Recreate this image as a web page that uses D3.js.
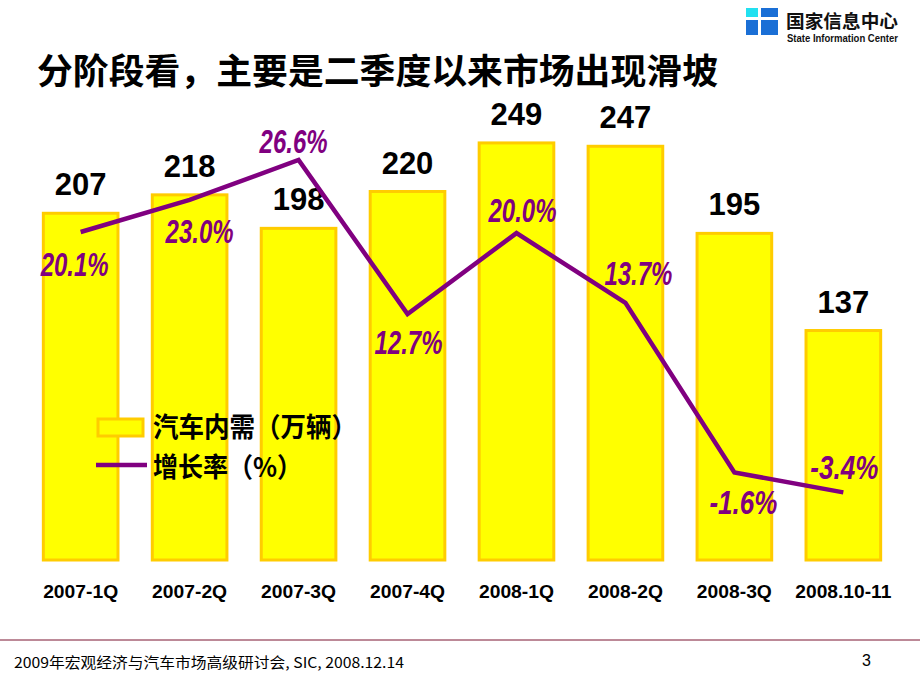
<!DOCTYPE html>
<html><head><meta charset="utf-8">
<script src="https://cdn.jsdelivr.net/npm/d3@7"></script>
<style>body{margin:0;background:#fff}svg{display:block}</style>
</head><body>
<svg id="c" width="920" height="690"></svg>
<script>
const categories = ["2007-1Q","2007-2Q","2007-3Q","2007-4Q","2008-1Q","2008-2Q","2008-3Q","2008.10-11"];
const demand = [207,218,198,220,249,247,195,137];
const growth = [20.1,23.0,26.6,12.7,20.0,13.7,-1.6,-3.4];
const growthLabels = ["20.1%","23.0%","26.6%","12.7%","20.0%","13.7%","-1.6%","-3.4%"];
const title = "分阶段看，主要是二季度以来市场出现滑坡";
const legendNames = ["汽车内需（万辆）","增长率（%）"];
// label offsets (style only)
const pctOffsets = [[-6,44],[10,43],[-5,-7],[1,40],[6,-11],[13,-18],[9,42],[1,-13]];

const svg = d3.select("#c");
const font = "Arial, 'Liberation Sans', 'Noto Sans CJK SC', sans-serif";
const cjk = "'Noto Sans CJK SC', sans-serif";

const x = d3.scaleBand().domain(categories).range([27, 897]).paddingInner(0.315).paddingOuter(0.15);
const y = d3.scaleLinear().domain([0, 300]).range([560, 560 - 300 * 1.675]);
const y2 = d3.scaleLinear().domain([-10, 30]).range([454.7 + 110.8, 454.7 - 332.4]);

// title
svg.append("text").attr("x", 37).attr("y", 84).attr("font-family", cjk)
  .attr("font-weight", "bold").attr("font-size", 35.5).attr("fill", "#000")
  .attr("textLength", 681).attr("lengthAdjust", "spacingAndGlyphs").text(title);

// logo
const lg = svg.append("g");
lg.append("rect").attr("x", 746).attr("y", 8).attr("width", 32).attr("height", 27).attr("fill", "#1a6fd6");
lg.append("rect").attr("x", 746).attr("y", 8).attr("width", 12).attr("height", 9).attr("fill", "#22e0f0");
lg.append("rect").attr("x", 746).attr("y", 17).attr("width", 32).attr("height", 3).attr("fill", "#fff");
lg.append("rect").attr("x", 758).attr("y", 8).attr("width", 3).attr("height", 27).attr("fill", "#fff");
lg.append("text").attr("x", 786).attr("y", 28).attr("font-family", cjk)
  .attr("font-weight", "bold").attr("font-size", 18.5).attr("fill", "#111")
  .attr("textLength", 112).attr("lengthAdjust", "spacingAndGlyphs").text("国家信息中心");
lg.append("text").attr("x", 787).attr("y", 42).attr("font-family", font)
  .attr("font-weight", "bold").attr("font-size", 11).attr("fill", "#111")
  .attr("textLength", 111).attr("lengthAdjust", "spacingAndGlyphs").text("State Information Center");

// bars
svg.append("g").selectAll("rect").data(demand).join("rect")
  .attr("x", (d, i) => x(categories[i]))
  .attr("y", d => y(d))
  .attr("width", x.bandwidth())
  .attr("height", d => y(0) - y(d))
  .attr("fill", "#FFFF00").attr("stroke", "#FFCC00").attr("stroke-width", 3);

// bar labels
svg.append("g").selectAll("text").data(demand).join("text")
  .attr("x", (d, i) => x(categories[i]) + x.bandwidth() / 2)
  .attr("y", d => y(d) - 18)
  .attr("text-anchor", "middle").attr("font-family", font).attr("font-weight", "bold")
  .attr("font-size", 31).attr("fill", "#000").text(d => d);

// line
const line = d3.line().x((d, i) => x(categories[i]) + x.bandwidth() / 2).y(d => y2(d));
svg.append("path").datum(growth).attr("d", line).attr("fill", "none")
  .attr("stroke", "#800080").attr("stroke-width", 4.5).attr("stroke-linejoin", "miter");

// pct labels
svg.append("g").selectAll("text").data(growth).join("text")
  .attr("x", (d, i) => x(categories[i]) + x.bandwidth() / 2 + pctOffsets[i][0])
  .attr("y", (d, i) => y2(d) + pctOffsets[i][1])
  .attr("text-anchor", "middle").attr("font-family", font).attr("font-weight", "bold")
  .attr("font-style", "italic").attr("font-size", 33).attr("fill", "#800080")
  .attr("textLength", (d, i) => growthLabels[i].length > 5 ? 72 : 68).attr("lengthAdjust", "spacingAndGlyphs")
  .text((d, i) => growthLabels[i]);

// x labels
svg.append("g").selectAll("text").data(categories).join("text")
  .attr("x", d => x(d) + x.bandwidth() / 2)
  .attr("y", 598).attr("text-anchor", "middle").attr("font-family", font)
  .attr("font-weight", "bold").attr("font-size", 18).attr("fill", "#000")
  .attr("textLength", d => d.length > 7 ? 96 : 75).attr("lengthAdjust", "spacingAndGlyphs")
  .text(d => d);

// legend
svg.append("rect").attr("x", 98).attr("y", 419).attr("width", 45).attr("height", 17)
  .attr("fill", "#FFFF00").attr("stroke", "#FFCC00").attr("stroke-width", 3);
svg.append("line").attr("x1", 96).attr("x2", 147).attr("y1", 465).attr("y2", 465)
  .attr("stroke", "#800080").attr("stroke-width", 4.5);
svg.append("text").attr("x", 153).attr("y", 437).attr("font-family", cjk)
  .attr("font-weight", "bold").attr("font-size", 27).attr("fill", "#000")
  .attr("textLength", 204).attr("lengthAdjust", "spacingAndGlyphs").text(legendNames[0]);
svg.append("text").attr("x", 153).attr("y", 477).attr("font-family", cjk)
  .attr("font-weight", "bold").attr("font-size", 27).attr("fill", "#000")
  .attr("textLength", 149).attr("lengthAdjust", "spacingAndGlyphs").text(legendNames[1]);

// footer
svg.append("line").attr("x1", 0).attr("x2", 920).attr("y1", 640).attr("y2", 640)
  .attr("stroke", "#7a1530").attr("stroke-width", 1);
svg.append("text").attr("x", 14).attr("y", 668).attr("font-family", cjk)
  .attr("font-size", 14.5).attr("fill", "#000").attr("textLength", 390).attr("lengthAdjust", "spacingAndGlyphs")
  .text("2009年宏观经济与汽车市场高级研讨会, SIC, 2008.12.14");
svg.append("text").attr("x", 862).attr("y", 666).attr("font-family", font)
  .attr("font-size", 16).attr("fill", "#000").text("3");
</script>
</body></html>
